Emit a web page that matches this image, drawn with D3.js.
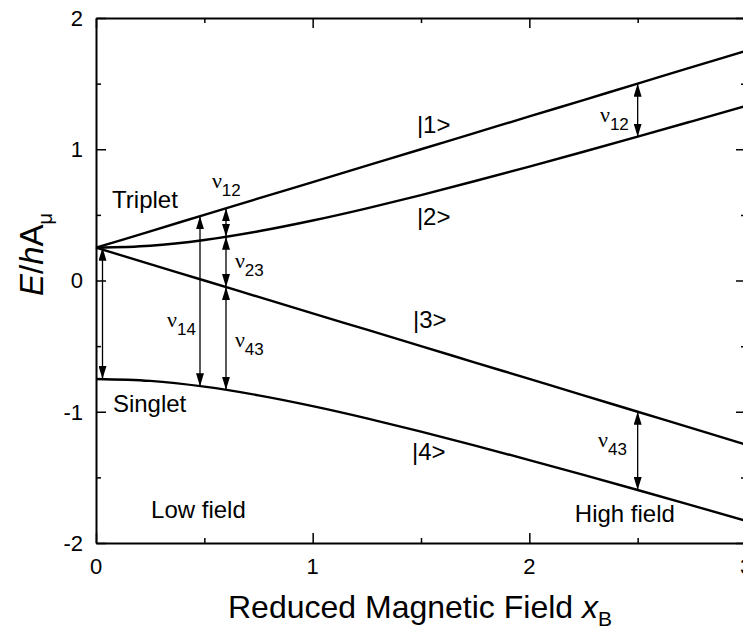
<!DOCTYPE html>
<html>
<head>
<meta charset="utf-8">
<script src="https://cdn.jsdelivr.net/npm/d3@7"></script>
<style>
  html, body { margin: 0; padding: 0; background: #fff; }
  svg { display: block; font-family: "Liberation Sans", Arial, sans-serif; }
</style>
</head>
<body>
<svg id="chart" width="743" height="633"></svg>
<script>
// Reduced field sample points
const fieldX = [0, 0.25, 0.5, 0.75, 1.0, 1.25, 1.5, 1.75, 2.0, 2.25, 2.5, 2.75, 3.0];
// Energy levels E/hA_mu for states |1> .. |4>
const level1 = [0.25, 0.375, 0.5, 0.625, 0.75, 0.875, 1.0, 1.125, 1.25, 1.375, 1.5, 1.625, 1.75];
const level2 = [0.25, 0.265, 0.309, 0.375, 0.457, 0.550, 0.651, 0.758, 0.868, 0.981, 1.096, 1.213, 1.331];
const level3 = [0.25, 0.125, 0.0, -0.125, -0.25, -0.375, -0.5, -0.625, -0.75, -0.875, -1.0, -1.125, -1.25];
const level4 = [-0.75, -0.765, -0.809, -0.875, -0.957, -1.050, -1.151, -1.258, -1.368, -1.481, -1.596, -1.713, -1.831];

// Transition arrows: field position, upper and lower energy
const arrowX    = [0.03, 0.48, 0.6, 0.6, 0.6, 2.5, 2.5];
const arrowTop  = [0.25, 0.49, 0.55, 0.333, -0.05, 1.5, -1.0];
const arrowBot  = [-0.75, -0.805, 0.333, -0.05, -0.833, 1.096, -1.596];

// Tick values
const xTicks = [0, 1, 2, 3];
const yTicks = [-2, -1, 0, 1, 2];

const svg = d3.select("#chart");

const x = d3.scaleLinear().domain([0, 3]).range([96, 746]);
const y = d3.scaleLinear().domain([-2, 2]).range([543, 18]);

// Arrowhead marker
const defs = svg.append("defs");
defs.append("marker")
  .attr("id", "head")
  .attr("viewBox", "0 0 13 8")
  .attr("refX", 13).attr("refY", 4)
  .attr("markerWidth", 13).attr("markerHeight", 8)
  .attr("markerUnits", "userSpaceOnUse")
  .attr("orient", "auto-start-reverse")
  .append("path").attr("d", "M0,0 L13,4 L0,8 Z").attr("fill", "#000");

// Frame axes with inward ticks (major at integers, minor at halves)
const minorX = d3.range(0, 3.01, 0.5);
const minorY = d3.range(-2, 2.01, 0.5);

const gB = svg.append("g").attr("transform", `translate(0,${y(-2)})`)
  .call(d3.axisBottom(x).tickValues(minorX).tickSize(0).tickFormat(""));
const gT = svg.append("g").attr("transform", `translate(0,${y(2)})`)
  .call(d3.axisTop(x).tickValues(minorX).tickSize(0).tickFormat(""));
const gL = svg.append("g").attr("transform", `translate(${x(0)},0)`)
  .call(d3.axisLeft(y).tickValues(minorY).tickSize(0).tickFormat(""));
const gR = svg.append("g").attr("transform", `translate(${x(3)},0)`)
  .call(d3.axisRight(y).tickValues(minorY).tickSize(0).tickFormat(""));

[gB, gT, gL, gR].forEach(g => {
  g.select(".domain").attr("stroke", "#000").attr("stroke-width", 2);
});
const isMajor = v => Math.abs(v - Math.round(v)) < 1e-9;
gB.selectAll(".tick line").attr("y2", d => isMajor(d) ? -10 : -5).attr("stroke-width", 1.5);
gT.selectAll(".tick line").attr("y2", d => isMajor(d) ? 10 : 5).attr("stroke-width", 1.5);
gL.selectAll(".tick line").attr("x2", d => isMajor(d) ? 10 : 5).attr("stroke-width", 1.5);
gR.selectAll(".tick line").attr("x2", d => isMajor(d) ? -10 : -5).attr("stroke-width", 1.5);

// Tick labels
svg.append("g").selectAll("text").data(yTicks).join("text")
  .attr("x", 83).attr("y", d => y(d)).attr("dy", "0.36em")
  .attr("text-anchor", "end").attr("font-size", 22)
  .text(d => d);
svg.append("g").selectAll("text").data(xTicks).join("text")
  .attr("x", d => x(d)).attr("y", 574)
  .attr("text-anchor", "middle").attr("font-size", 22)
  .text(d => d);

// Axis titles
const xt = svg.append("text").attr("x", 228).attr("y", 618).attr("font-size", 32);
xt.append("tspan").text("Reduced Magnetic Field ");
xt.append("tspan").attr("font-style", "italic").text("x");
xt.append("tspan").attr("font-size", 21).attr("dy", 8).text("B");

const yt = svg.append("text").attr("transform", "translate(43,296) rotate(-90)").attr("font-size", 33);
yt.append("tspan").attr("font-style", "italic").text("E");
yt.append("tspan").text("/");
yt.append("tspan").attr("font-style", "italic").text("h");
yt.append("tspan").text("A");
yt.append("tspan").attr("font-size", 20).attr("dy", 9).text("μ");

// Energy level curves
const line = d3.line().x((d, i) => x(fieldX[i])).y(d => y(d)).curve(d3.curveMonotoneX);
svg.append("g").selectAll("path").data([level1, level2, level3, level4]).join("path")
  .attr("d", line).attr("fill", "none").attr("stroke", "#000").attr("stroke-width", 2.4);

// Transition arrows
svg.append("g").selectAll("line").data(arrowX).join("line")
  .attr("x1", d => x(d)).attr("x2", d => x(d))
  .attr("y1", (d, i) => y(arrowTop[i])).attr("y2", (d, i) => y(arrowBot[i]))
  .attr("stroke", "#000").attr("stroke-width", 1.3)
  .attr("marker-start", "url(#head)").attr("marker-end", "url(#head)");

// State and regime labels (field, energy)
const plainLabels = [
  { t: "|1>", fx: 1.481, fe: 1.124 },
  { t: "|2>", fx: 1.481, fe: 0.423 },
  { t: "|3>", fx: 1.463, fe: -0.362 },
  { t: "|4>", fx: 1.458, fe: -1.37 },
  { t: "Triplet", fx: 0.074, fe: 0.552 },
  { t: "Singlet", fx: 0.078, fe: -1.002 },
  { t: "Low field", fx: 0.254, fe: -1.810 },
  { t: "High field", fx: 2.210, fe: -1.840 }
];
svg.append("g").selectAll("text").data(plainLabels).join("text")
  .attr("x", d => x(d.fx)).attr("y", d => y(d.fe))
  .attr("font-size", 24).text(d => d.t);

// Transition frequency labels
const nuLabels = [
  { s: "12", fx: 0.535, fe: 0.705 },
  { s: "23", fx: 0.641, fe: 0.095 },
  { s: "43", fx: 0.641, fe: -0.507 },
  { s: "14", fx: 0.328, fe: -0.354 },
  { s: "12", fx: 2.326, fe: 1.208 },
  { s: "43", fx: 2.317, fe: -1.269 }
];
const nu = svg.append("g").selectAll("text").data(nuLabels).join("text")
  .attr("x", d => x(d.fx)).attr("y", d => y(d.fe));
nu.append("tspan").attr("font-family", "Liberation Serif, serif").attr("font-size", 22).text("ν");
nu.append("tspan").attr("font-size", 17).attr("dy", 8).text(d => d.s);
</script>
</body>
</html>
